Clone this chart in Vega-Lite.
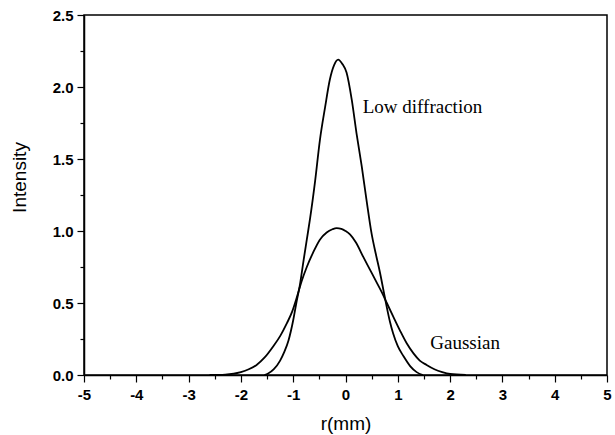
{
  "$schema": "https://vega.github.io/schema/vega-lite/v6.json",
  "width": 523,
  "height": 360,
  "autosize": "none",
  "padding": {"left": 84, "top": 15, "right": 8, "bottom": 60},
  "background": "white",
  "config": {
    "view": {"stroke": "black", "strokeWidth": 1.5},
    "axis": {"grid": false, "domainColor": "black", "domainWidth": 1.5, "tickColor": "black", "tickWidth": 1.2, "labelColor": "black", "titleColor": "black", "labelFont": "Liberation Sans", "titleFont": "Liberation Sans"}
  },
  "datasets": {
    "curves": [
      {"series": "Gaussian", "r": -2.6, "I": 0},
      {"series": "Gaussian", "r": -2.3, "I": 0.003},
      {"series": "Gaussian", "r": -2.0, "I": 0.02},
      {"series": "Gaussian", "r": -1.85, "I": 0.04},
      {"series": "Gaussian", "r": -1.7, "I": 0.07},
      {"series": "Gaussian", "r": -1.55, "I": 0.12},
      {"series": "Gaussian", "r": -1.38, "I": 0.2},
      {"series": "Gaussian", "r": -1.25, "I": 0.27},
      {"series": "Gaussian", "r": -1.12, "I": 0.36},
      {"series": "Gaussian", "r": -1.02, "I": 0.44},
      {"series": "Gaussian", "r": -0.93, "I": 0.54},
      {"series": "Gaussian", "r": -0.84, "I": 0.65},
      {"series": "Gaussian", "r": -0.74, "I": 0.75},
      {"series": "Gaussian", "r": -0.62, "I": 0.85},
      {"series": "Gaussian", "r": -0.49, "I": 0.94},
      {"series": "Gaussian", "r": -0.36, "I": 0.99},
      {"series": "Gaussian", "r": -0.25, "I": 1.012},
      {"series": "Gaussian", "r": -0.17, "I": 1.02},
      {"series": "Gaussian", "r": -0.08, "I": 1.015},
      {"series": "Gaussian", "r": 0.0, "I": 1.0},
      {"series": "Gaussian", "r": 0.09, "I": 0.975},
      {"series": "Gaussian", "r": 0.2, "I": 0.92},
      {"series": "Gaussian", "r": 0.34, "I": 0.82},
      {"series": "Gaussian", "r": 0.47, "I": 0.73},
      {"series": "Gaussian", "r": 0.6, "I": 0.64},
      {"series": "Gaussian", "r": 0.7, "I": 0.57},
      {"series": "Gaussian", "r": 0.79, "I": 0.5},
      {"series": "Gaussian", "r": 0.92, "I": 0.4},
      {"series": "Gaussian", "r": 1.04, "I": 0.31},
      {"series": "Gaussian", "r": 1.17, "I": 0.22},
      {"series": "Gaussian", "r": 1.3, "I": 0.15},
      {"series": "Gaussian", "r": 1.42, "I": 0.1},
      {"series": "Gaussian", "r": 1.55, "I": 0.07},
      {"series": "Gaussian", "r": 1.7, "I": 0.04},
      {"series": "Gaussian", "r": 1.85, "I": 0.02},
      {"series": "Gaussian", "r": 2.0, "I": 0.007},
      {"series": "Gaussian", "r": 2.3, "I": 0},
      {"series": "Low diffraction", "r": -1.55, "I": 0},
      {"series": "Low diffraction", "r": -1.48, "I": 0.01},
      {"series": "Low diffraction", "r": -1.37, "I": 0.04},
      {"series": "Low diffraction", "r": -1.25, "I": 0.1},
      {"series": "Low diffraction", "r": -1.17, "I": 0.16},
      {"series": "Low diffraction", "r": -1.09, "I": 0.24},
      {"series": "Low diffraction", "r": -1.0, "I": 0.38},
      {"series": "Low diffraction", "r": -0.94, "I": 0.5},
      {"series": "Low diffraction", "r": -0.87, "I": 0.63},
      {"series": "Low diffraction", "r": -0.8, "I": 0.8},
      {"series": "Low diffraction", "r": -0.74, "I": 0.94},
      {"series": "Low diffraction", "r": -0.68, "I": 1.08},
      {"series": "Low diffraction", "r": -0.58, "I": 1.35},
      {"series": "Low diffraction", "r": -0.49, "I": 1.63},
      {"series": "Low diffraction", "r": -0.39, "I": 1.86},
      {"series": "Low diffraction", "r": -0.3, "I": 2.05},
      {"series": "Low diffraction", "r": -0.22, "I": 2.15},
      {"series": "Low diffraction", "r": -0.14, "I": 2.19},
      {"series": "Low diffraction", "r": -0.06, "I": 2.16},
      {"series": "Low diffraction", "r": 0.02, "I": 2.1},
      {"series": "Low diffraction", "r": 0.12, "I": 1.91},
      {"series": "Low diffraction", "r": 0.21, "I": 1.68},
      {"series": "Low diffraction", "r": 0.31, "I": 1.45},
      {"series": "Low diffraction", "r": 0.4, "I": 1.22},
      {"series": "Low diffraction", "r": 0.5, "I": 0.98},
      {"series": "Low diffraction", "r": 0.58, "I": 0.84},
      {"series": "Low diffraction", "r": 0.66, "I": 0.71},
      {"series": "Low diffraction", "r": 0.73, "I": 0.58},
      {"series": "Low diffraction", "r": 0.79, "I": 0.47},
      {"series": "Low diffraction", "r": 0.85, "I": 0.37},
      {"series": "Low diffraction", "r": 0.91, "I": 0.29},
      {"series": "Low diffraction", "r": 1.0, "I": 0.2},
      {"series": "Low diffraction", "r": 1.11, "I": 0.13},
      {"series": "Low diffraction", "r": 1.24, "I": 0.06},
      {"series": "Low diffraction", "r": 1.36, "I": 0.02},
      {"series": "Low diffraction", "r": 1.48, "I": 0}
    ],
    "labels": [
      {"text": "Low diffraction", "r": 0.33, "I": 1.86},
      {"text": "Gaussian", "r": 1.62, "I": 0.22}
    ]
  },
  "layer": [
    {
      "data": {"name": "curves"},
      "mark": {"type": "line", "color": "black", "strokeWidth": 1.8, "interpolate": "monotone", "clip": true},
      "encoding": {
        "x": {"field": "r", "type": "quantitative", "scale": {"domain": [-5, 5], "nice": false},
          "axis": {"orient": "bottom", "title": "r(mm)", "titleFontSize": 19, "titleFontWeight": "normal", "titlePadding": 12, "values": [-5, -4, -3, -2, -1, 0, 1, 2, 3, 4, 5], "labelExpr": "datum.value < 0 ? '-' + abs(datum.value) : '' + datum.value", "labelFontSize": 15, "labelFontWeight": "bold", "tickSize": 7, "labelPadding": 5, "labelFlush": false}},
        "y": {"field": "I", "type": "quantitative", "scale": {"domain": [0, 2.5], "nice": false},
          "axis": {"orient": "left", "title": "Intensity", "titleFontSize": 19, "titleFontWeight": "normal", "titleX": -55, "titleY": 162, "values": [0, 0.5, 1, 1.5, 2, 2.5], "format": ".1f", "labelFontSize": 15, "labelFontWeight": "bold", "tickSize": 7, "labelPadding": 4}},
        "detail": {"field": "series"}
      }
    },
    {
      "data": {"name": "labels"},
      "mark": {"type": "text", "align": "left", "baseline": "middle", "font": "Liberation Serif", "fontSize": 19, "color": "black"},
      "encoding": {
        "x": {"field": "r", "type": "quantitative",
          "axis": {"orient": "bottom", "title": null, "values": [-4.5, -3.5, -2.5, -1.5, -0.5, 0.5, 1.5, 2.5, 3.5, 4.5], "labels": false, "tickSize": 4, "domain": false}},
        "y": {"field": "I", "type": "quantitative",
          "axis": {"orient": "left", "title": null, "values": [0.25, 0.75, 1.25, 1.75, 2.25], "labels": false, "tickSize": 4, "domain": false}},
        "text": {"field": "text"}
      }
    }
  ],
  "resolve": {"axis": {"x": "independent", "y": "independent"}}
}
